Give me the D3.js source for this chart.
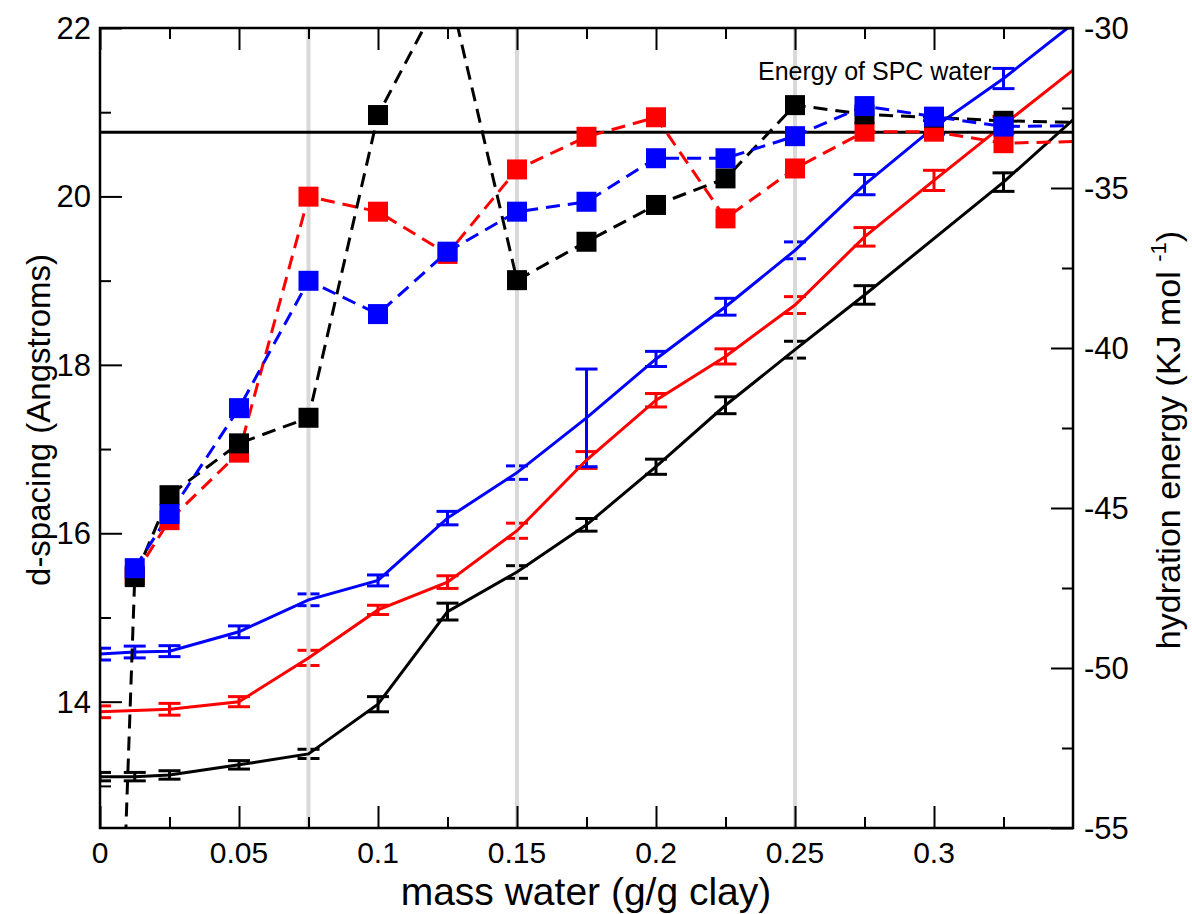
<!DOCTYPE html>
<html>
<head>
<meta charset="utf-8">
<script src="https://cdn.jsdelivr.net/npm/d3@7/dist/d3.min.js"></script>
<style>
  body { margin: 0; background: #fff; }
  svg text { font-family: "Liberation Sans", Arial, Helvetica, sans-serif; fill: #000; }
</style>
</head>
<body>
<svg id="chart" width="1192" height="914"></svg>
<script>
// d-spacing (left axis), solid lines with error bars
var blueDx  = [0, 0.0125, 0.025, 0.05, 0.075, 0.1, 0.125, 0.15, 0.175, 0.2, 0.225, 0.25, 0.275, 0.3, 0.325, 0.35];
var blueD   = [14.565, 14.59, 14.60, 14.83, 15.21, 15.44, 16.18, 16.72, 17.37, 18.07, 18.69, 19.36, 20.14, 20.82, 21.40, 22.05];
var blueErr = [0.07, 0.07, 0.065, 0.07, 0.07, 0.065, 0.08, 0.08, 0.58, 0.09, 0.1, 0.1, 0.12, 0.08, 0.12, 0];

var redDx   = [0, 0.025, 0.05, 0.075, 0.1, 0.125, 0.15, 0.175, 0.2, 0.225, 0.25, 0.275, 0.3, 0.325, 0.35];
var redD    = [13.88, 13.91, 14.0, 14.52, 15.09, 15.42, 16.03, 16.87, 17.58, 18.10, 18.71, 19.52, 20.19, 20.85, 21.50];
var redErr  = [0.07, 0.07, 0.06, 0.09, 0.055, 0.075, 0.09, 0.1, 0.08, 0.09, 0.1, 0.11, 0.12, 0.1, 0];

var blackDx  = [0, 0.0125, 0.025, 0.05, 0.075, 0.1, 0.125, 0.15, 0.175, 0.2, 0.225, 0.25, 0.275, 0.325, 0.35];
var blackD   = [13.11, 13.11, 13.13, 13.25, 13.38, 13.97, 15.07, 15.54, 16.10, 16.79, 17.52, 18.18, 18.83, 20.17, 20.91];
var blackErr = [0.05, 0.05, 0.05, 0.05, 0.055, 0.09, 0.1, 0.075, 0.075, 0.09, 0.1, 0.1, 0.11, 0.11, 0];

// hydration energy (right axis), dashed lines with squares
var redEx  = [0.0125, 0.025, 0.05, 0.075, 0.1, 0.125, 0.15, 0.175, 0.2, 0.225, 0.25, 0.275, 0.3, 0.325, 0.35];
var redE   = [-47.1, -45.38, -43.27, -35.27, -35.74, -37.06, -34.42, -33.4, -32.79, -35.95, -34.39, -33.24, -33.24, -33.6, -33.55];

var blackEx = [0, 0.0125, 0.025, 0.05, 0.075, 0.1, 0.125, 0.15, 0.175, 0.2, 0.225, 0.25, 0.275, 0.3, 0.325, 0.35];
var blackE  = [-78, -47.16, -44.6, -42.98, -42.18, -32.72, -28.6, -37.88, -36.68, -35.53, -34.70, -32.41, -32.7, -32.8, -32.9, -32.95];

var blueEx = [0.0125, 0.025, 0.05, 0.075, 0.1, 0.125, 0.15, 0.175, 0.2, 0.225, 0.25, 0.275, 0.3, 0.325, 0.35];
var blueE  = [-46.88, -45.19, -41.88, -37.9, -38.94, -36.99, -35.74, -35.43, -34.07, -34.07, -33.38, -32.44, -32.77, -33.08, -33.05];

var spcEnergy = -33.26;
var guideX = [0.075, 0.15, 0.25];

var xTicks      = [0, 0.05, 0.1, 0.15, 0.2, 0.25, 0.3];
var xMinor      = [0.025, 0.075, 0.125, 0.175, 0.225, 0.275, 0.325];
var leftTicks   = [14, 16, 18, 20, 22];
var leftMinor   = [13, 15, 17, 19, 21];
var rightTicks  = [-55, -50, -45, -40, -35, -30];
var rightMinor  = [-52.5, -47.5, -42.5, -37.5, -32.5];

var svg = d3.select("#chart");
var L = 100, R = 1073, T = 28, B = 828;

var x = d3.scaleLinear().domain([0, 0.35]).range([L, R]);
var yL = d3.scaleLinear().domain([12.5, 22]).range([B, T]);
var yR = d3.scaleLinear().domain([-55, -30]).range([B, T]);

svg.append("defs").append("clipPath").attr("id", "plotclip")
  .append("rect").attr("x", L).attr("y", T).attr("width", R - L).attr("height", B - T);

var plot = svg.append("g").attr("clip-path", "url(#plotclip)");

function pts(xs, ys, errs) {
  return xs.map(function(v, i) { return { x: v, y: ys[i], e: errs ? errs[i] : 0 }; });
}

var dSeries = [
  { color: "#000000", data: pts(blackDx, blackD, blackErr) },
  { color: "#ff0000", data: pts(redDx, redD, redErr) },
  { color: "#0000ff", data: pts(blueDx, blueD, blueErr) }
];
var eSeries = [
  { color: "#ff0000", data: pts(redEx, redE) },
  { color: "#000000", data: pts(blackEx, blackE) },
  { color: "#0000ff", data: pts(blueEx, blueE) }
];

// error bars first, grey guides drawn over them
dSeries.forEach(function(s) {
  s.data.filter(function(d) { return d.e > 0; }).forEach(function(d) {
    var g = plot.append("g").attr("stroke", s.color).attr("stroke-width", 3);
    var cx = x(d.x), y0 = yL(d.y - d.e), y1 = yL(d.y + d.e);
    g.append("line").attr("x1", cx).attr("x2", cx).attr("y1", y0).attr("y2", y1);
    g.append("line").attr("x1", cx - 11).attr("x2", cx + 11).attr("y1", y0).attr("y2", y0);
    g.append("line").attr("x1", cx - 11).attr("x2", cx + 11).attr("y1", y1).attr("y2", y1);
  });
});

guideX.forEach(function(v) {
  plot.append("line")
    .attr("x1", x(v)).attr("x2", x(v)).attr("y1", T).attr("y2", B)
    .attr("stroke", "#d9d9d9").attr("stroke-width", 4);
});

var lineD = d3.line().x(function(d) { return x(d.x); }).y(function(d) { return yL(d.y); });
var lineE = d3.line().x(function(d) { return x(d.x); }).y(function(d) { return yR(d.y); });

dSeries.forEach(function(s) {
  plot.append("path").attr("d", lineD(s.data))
    .attr("fill", "none").attr("stroke", s.color).attr("stroke-width", 3);
});

// energy of SPC water
plot.append("line")
  .attr("x1", L).attr("x2", R).attr("y1", yR(spcEnergy)).attr("y2", yR(spcEnergy))
  .attr("stroke", "#000").attr("stroke-width", 3);

eSeries.forEach(function(s) {
  plot.append("path").attr("d", lineE(s.data))
    .attr("fill", "none").attr("stroke", s.color).attr("stroke-width", 3)
    .attr("stroke-dasharray", "14,8");
});
eSeries.forEach(function(s) {
  plot.selectAll(null)
    .data(s.data.filter(function(d) { return d.x < 0.34; }))
    .enter().append("rect")
    .attr("x", function(d) { return x(d.x) - 10; })
    .attr("y", function(d) { return yR(d.y) - 10; })
    .attr("width", 20).attr("height", 20)
    .attr("fill", s.color);
});

svg.append("text")
  .attr("x", 758).attr("y", 80)
  .attr("font-size", 25)
  .text("Energy of SPC water");

// axes, ticks pointing inwards
function tickAxis(axis, tr, len) {
  var g = svg.append("g").attr("transform", tr).call(axis.tickSize(len).tickFormat(""));
  g.select(".domain").remove();
  g.selectAll("line").attr("stroke", "#000").attr("stroke-width", 2);
  return g;
}
tickAxis(d3.axisTop(x).tickValues(xTicks), "translate(0," + B + ")", 22);
tickAxis(d3.axisTop(x).tickValues(xMinor), "translate(0," + B + ")", 11);
tickAxis(d3.axisBottom(x).tickValues(xTicks), "translate(0," + T + ")", 22);
tickAxis(d3.axisBottom(x).tickValues(xMinor), "translate(0," + T + ")", 11);
tickAxis(d3.axisRight(yL).tickValues(leftTicks), "translate(" + L + ",0)", 22);
tickAxis(d3.axisRight(yL).tickValues(leftMinor), "translate(" + L + ",0)", 11);
tickAxis(d3.axisLeft(yR).tickValues(rightTicks), "translate(" + R + ",0)", 22);
tickAxis(d3.axisLeft(yR).tickValues(rightMinor), "translate(" + R + ",0)", 11);

svg.append("rect")
  .attr("x", L).attr("y", T).attr("width", R - L).attr("height", B - T)
  .attr("fill", "none").attr("stroke", "#000").attr("stroke-width", 2.5);

svg.selectAll(".xlab").data(xTicks).enter().append("text")
  .attr("x", function(d) { return x(d); }).attr("y", 863)
  .attr("text-anchor", "middle").attr("font-size", 30)
  .text(function(d) { return d; });

svg.selectAll(".ylab").data(leftTicks).enter().append("text")
  .attr("x", 91).attr("y", function(d) { return yL(d) + 11; })
  .attr("text-anchor", "end").attr("font-size", 31)
  .text(function(d) { return d; });

svg.selectAll(".rlab").data(rightTicks).enter().append("text")
  .attr("x", 1084).attr("y", function(d) { return yR(d) + 11; })
  .attr("font-size", 31)
  .text(function(d) { return d; });

svg.append("text")
  .attr("x", 586).attr("y", 905)
  .attr("text-anchor", "middle").attr("font-size", 39)
  .text("mass water (g/g clay)");

svg.append("text")
  .attr("transform", "translate(50,420) rotate(-90)")
  .attr("text-anchor", "middle").attr("font-size", 33)
  .text("d-spacing (Angstroms)");

var rt = svg.append("text")
  .attr("transform", "translate(1180,440) rotate(-90)")
  .attr("text-anchor", "middle").attr("font-size", 34);
rt.append("tspan").text("hydration energy (KJ mol ");
rt.append("tspan").attr("dy", -14).attr("font-size", 22).text("-1");
rt.append("tspan").attr("dy", 14).text(")");
</script>
</body>
</html>
